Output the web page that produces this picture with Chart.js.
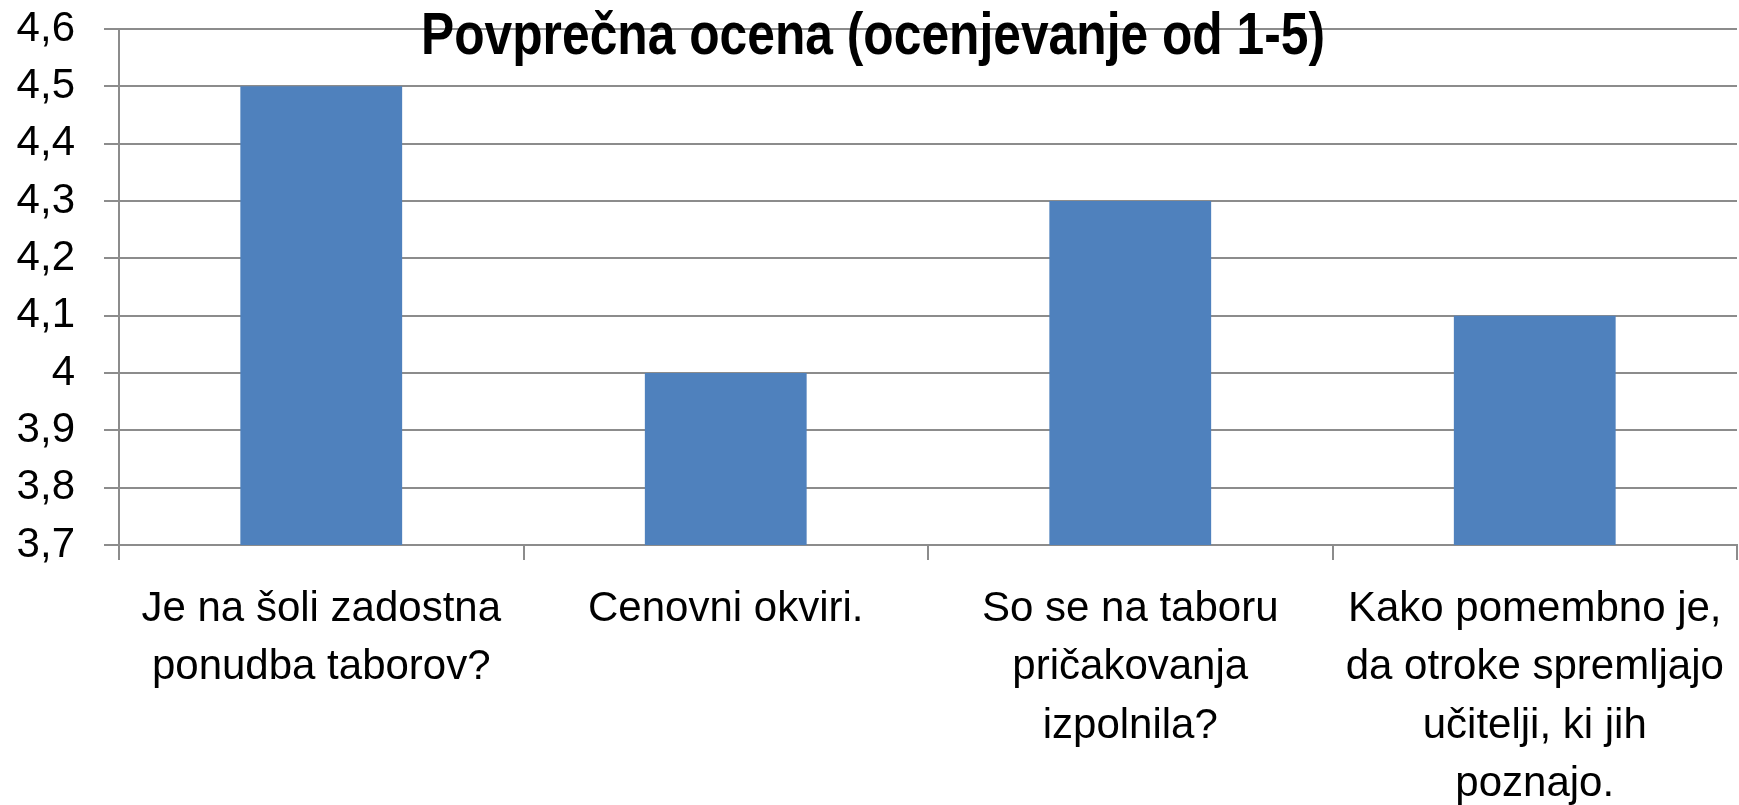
<!DOCTYPE html>
<html>
<head>
<meta charset="utf-8">
<script src="https://cdn.jsdelivr.net/npm/chart.js@4/dist/chart.umd.min.js"></script>
<style>
  body { margin: 0; background: #fff; }
  #wrap { width: 1739px; height: 805px; }
</style>
</head>
<body>
<div id="wrap"><canvas id="chart" width="1739" height="805"></canvas></div>
<script>
const categories = [
    ['Je na šoli zadostna', 'ponudba taborov?'],
    ['Cenovni okviri.'],
    ['So se na taboru', 'pričakovanja', 'izpolnila?'],
    ['Kako pomembno je,', 'da otroke spremljajo', 'učitelji, ki jih', 'poznajo.']
];
const averages = [4.5, 4.0, 4.3, 4.1];
const yTickLabels = ['3,7', '3,8', '3,9', '4', '4,1', '4,2', '4,3', '4,4', '4,5', '4,6'];
const chartTitle = 'Povprečna ocena (ocenjevanje od 1-5)';

const gridGray = '#8c8c8c';

// title sits over the plot area, like the original
const titlePlugin = {
    id: 'overTitle',
    afterDraw(chart) {
        const ctx = chart.ctx;
        ctx.save();
        ctx.font = 'bold 59px "Liberation Sans", Arial, sans-serif';
        ctx.fillStyle = '#000';
        ctx.textAlign = 'center';
        ctx.textBaseline = 'alphabetic';
        const w = ctx.measureText(chartTitle).width;
        ctx.translate(873, 54);
        ctx.scale(904 / w, 1);
        ctx.fillText(chartTitle, 0, 0);
        ctx.restore();
    }
};

const ctx = document.getElementById('chart').getContext('2d');
new Chart(ctx, {
    type: 'bar',
    data: {
        labels: categories,
        datasets: [{
            data: averages,
            backgroundColor: '#4f81bd',
            borderWidth: 0,
            barPercentage: 0.4,
            categoryPercentage: 1
        }]
    },
    options: {
        responsive: false,
        animation: false,
        layout: { padding: { top: 29, right: 2, left: 0, bottom: 0 } },
        plugins: {
            legend: { display: false },
            title: { display: false },
            tooltip: { enabled: false }
        },
        scales: {
            x: {
                grid: {
                    offset: true,
                    drawOnChartArea: false,
                    drawTicks: true,
                    tickLength: 15,
                    color: gridGray,
                    lineWidth: 2
                },
                border: { color: gridGray, width: 2 },
                ticks: {
                    autoSkip: false,
                    maxRotation: 0,
                    padding: 20,
                    color: '#000',
                    font: { family: '"Liberation Sans", Arial, sans-serif', size: 42, lineHeight: 1.393 }
                },
                afterFit(scale) {
                    scale.height = 260;
                    scale.paddingLeft = 0;
                    scale.paddingRight = 0;
                }
            },
            y: {
                min: 3.7,
                max: 4.6,
                grid: {
                    color: gridGray,
                    lineWidth: 2,
                    tickLength: 15
                },
                border: { color: gridGray, width: 2 },
                ticks: {
                    stepSize: 0.1,
                    padding: 29,
                    color: '#000',
                    font: { family: '"Liberation Sans", Arial, sans-serif', size: 42 },
                    callback: (value, index) => yTickLabels[index]
                },
                afterFit(scale) {
                    scale.width = 119;
                    scale.paddingTop = 0;
                    scale.paddingBottom = 0;
                }
            }
        }
    },
    plugins: [titlePlugin]
});
</script>
</body>
</html>
